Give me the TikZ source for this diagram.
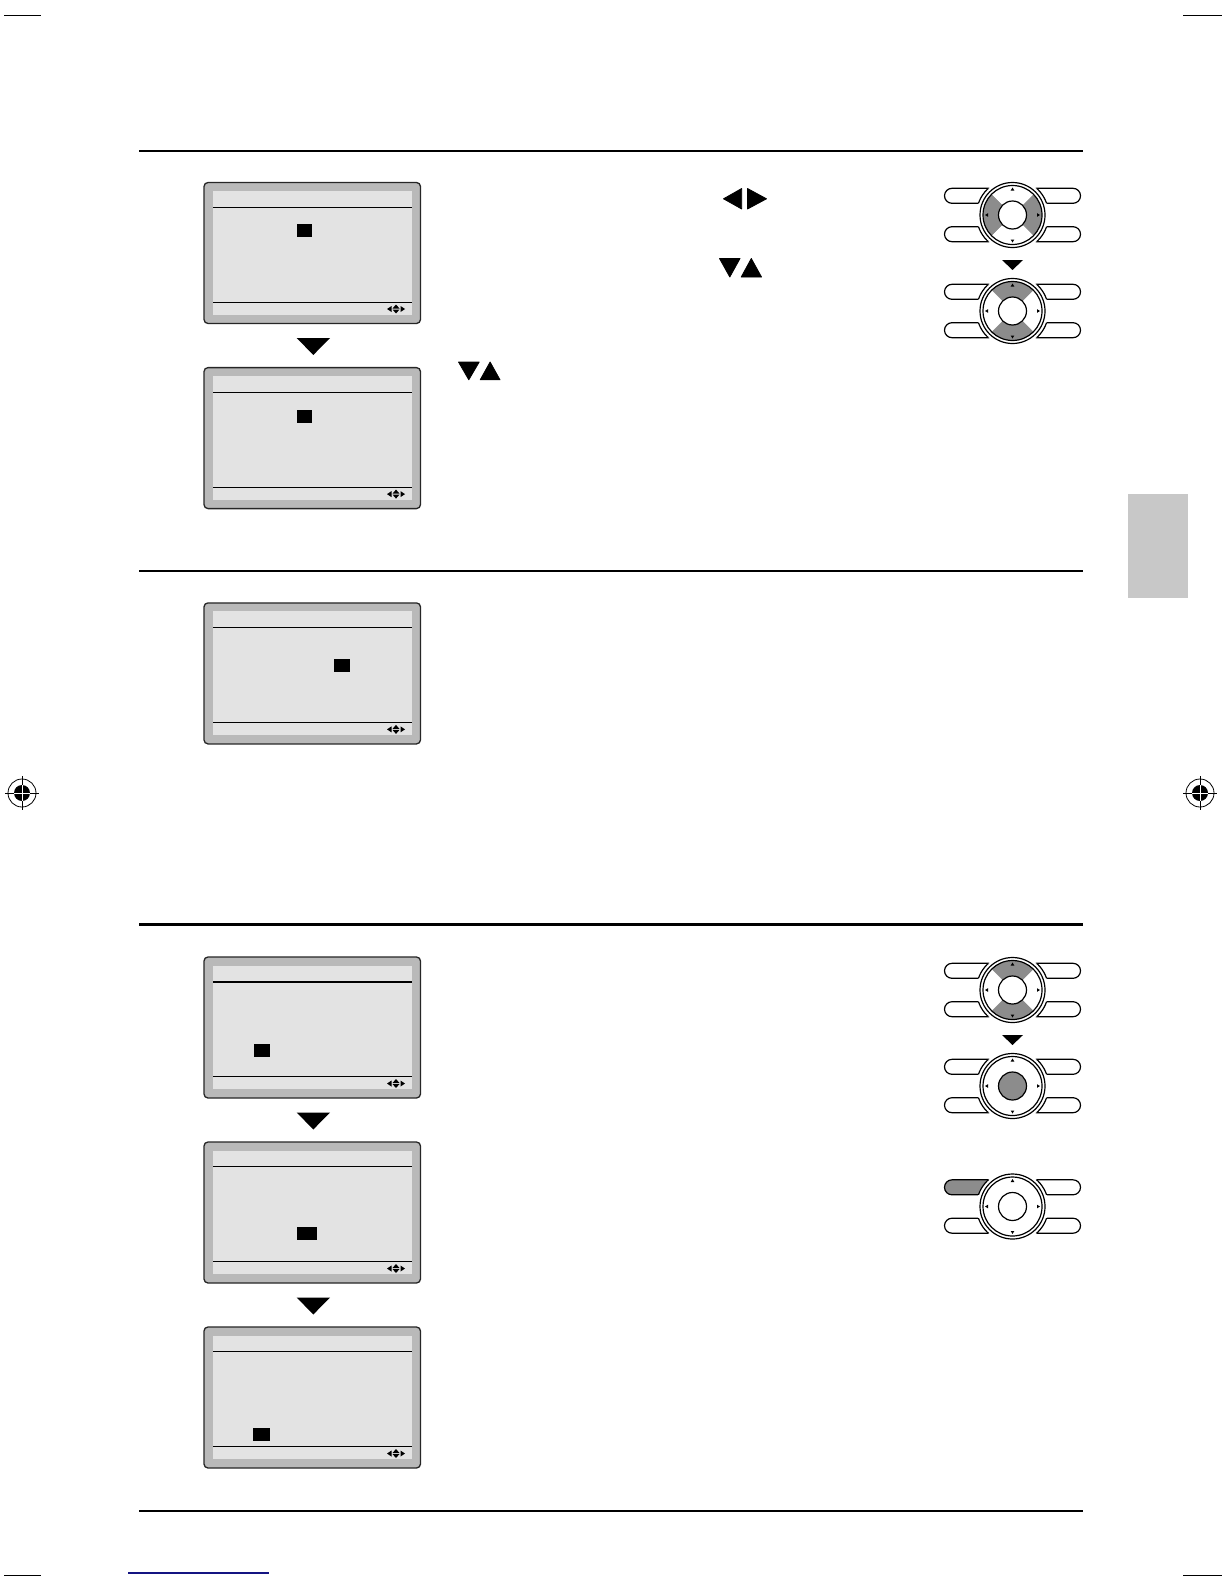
\documentclass[tikz,border=0pt]{standalone}
\definecolor{framegray}{RGB}{185,185,185}
\definecolor{screengray}{RGB}{227,227,227}
\definecolor{remgray}{RGB}{140,140,140}
\definecolor{tabgray}{RGB}{200,200,200}
\definecolor{navyline}{RGB}{20,20,130}

\tikzset{
  rule/.style={line width=#1, black},
  tri/.style={fill=black, draw=black, line width=0.8pt, line join=round},
}

\newcommand{\mylcd}[6]{% #1 x, #2 y, #3 cursor x, #4 cursor y, #5 cursor w, #6 top line width
  \begin{scope}[shift={(#1,#2)}]
    \filldraw[fill=framegray, draw=black!85, line width=1.3pt, rounded corners=4pt] (0,0) rectangle (216.5,141);
    \fill[screengray] (9,8.5) rectangle (207.5,132);
    \draw[line width=#6] (9,24.8) -- (207.5,24.8);
    \draw[line width=1pt] (9,119.8) -- (207.5,119.8);
    \fill (#3,#4) rectangle ++(#5,13);
    % navigation icon
    \fill (183,126.5) -- (187.5,123.5) -- (187.5,129.5) -- cycle;
    \fill (201,126.5) -- (196.5,123.5) -- (196.5,129.5) -- cycle;
    \fill (192,122) -- (188.5,126) -- (195.5,126) -- cycle;
    \fill (192,131) -- (188.5,127) -- (195.5,127) -- cycle;
  \end{scope}}

\newcommand{\myremote}[5]{% #1 cy, #2 left/right colour, #3 up/down colour, #4 centre colour, #5 top-left pill colour
  \begin{scope}[shift={(1012.5,#1)}, line width=1.2pt]
    \filldraw[fill=#5, rounded corners=7.5pt] (-68,-26.7) rectangle (-5,-11.7);
    \filldraw[fill=white, rounded corners=7.5pt] (-68,11.7) rectangle (-5,26.7);
    \filldraw[fill=white, rounded corners=7.5pt] (5,-26.7) rectangle (68,-11.7);
    \filldraw[fill=white, rounded corners=7.5pt] (5,11.7) rectangle (68,26.7);
    \fill[white] (0,0) circle (36);
    \begin{scope}\clip[rounded corners=7.5pt] (-68,-26.7) rectangle (-5,-11.7); \draw (0,0) circle (36); \end{scope}
    \begin{scope}\clip[rounded corners=7.5pt] (-68,11.7) rectangle (-5,26.7); \draw (0,0) circle (36); \end{scope}
    \begin{scope}\clip[rounded corners=7.5pt] (5,-26.7) rectangle (68,-11.7); \draw (0,0) circle (36); \end{scope}
    \begin{scope}\clip[rounded corners=7.5pt] (5,11.7) rectangle (68,26.7); \draw (0,0) circle (36); \end{scope}
    \draw (0,0) circle (32.5);
    \fill[#2] (0,0) -- (-45:29.5) arc (-45:45:29.5) -- cycle;
    \fill[#2] (0,0) -- (135:29.5) arc (135:225:29.5) -- cycle;
    \fill[#3] (0,0) -- (45:29.5) arc (45:135:29.5) -- cycle;
    \fill[#3] (0,0) -- (225:29.5) arc (225:315:29.5) -- cycle;
    \draw (0,0) circle (29.5);
    \filldraw[fill=#4] (0,0) circle (14);
    \fill (-1.8,-24.5) -- (1.8,-24.5) -- (0,-27.5) -- cycle;
    \fill (-1.8,24.5) -- (1.8,24.5) -- (0,27.5) -- cycle;
    \fill (-24.5,-1.8) -- (-24.5,1.8) -- (-27.5,0) -- cycle;
    \fill (24.5,-1.8) -- (24.5,1.8) -- (27.5,0) -- cycle;
  \end{scope}}

\newcommand{\regmark}[2]{%
  \begin{scope}[shift={(#1,#2)}]
    \draw[line width=0.8pt] (0,0) circle (14);
    \fill (0,0) circle (8);
    \draw[line width=0.8pt] (-17,0) -- (17,0) (0,-17) -- (0,17);
    \draw[white, line width=0.8pt] (-8,0) -- (8,0) (0,-8) -- (0,8);
  \end{scope}}

\begin{document}
\begin{tikzpicture}[x=1pt,y=-1pt]
\useasboundingbox[fill=white] (0,0) rectangle (1224,1584);

% crop marks
\draw[line width=1pt] (4,16) -- (41,16) (1183,16) -- (1222,16)
  (4,1575) -- (41,1575) (1183,1575) -- (1222,1575);
\draw[navyline, line width=1.5pt] (128,1573) -- (269,1573);

% section rules
\draw[rule=2pt] (139,150.5) -- (1083,150.5);
\draw[rule=2pt] (139,570.6) -- (1083,570.6);
\draw[rule=3pt] (139,924) -- (1083,924);
\draw[rule=1.2pt] (139,1511) -- (1083,1511);

% side tab
\fill[tabgray] (1128,494) rectangle (1188,598);

% registration marks
\regmark{22}{793}
\regmark{1200}{793}

% screens
\mylcd{204}{182.5}{92.7}{41.8}{15.6}{1pt}
\mylcd{204}{367.6}{93}{42.4}{14.5}{1pt}
\mylcd{204}{602.9}{130}{56.5}{16}{1pt}
\mylcd{204}{957}{50}{87}{16}{1.6pt}
\mylcd{204}{1142}{93}{85}{20}{1pt}
\mylcd{204}{1327}{49}{101}{17}{1pt}

% arrows between screens
\fill (296.7,338) -- (330,338) -- (313.3,355) -- cycle;
\fill (296.7,1112.5) -- (330,1112.5) -- (313.3,1129.5) -- cycle;
\fill (296.7,1297.5) -- (330,1297.5) -- (313.3,1314.5) -- cycle;

% text symbols
\filldraw[tri] (723.5,198.8) -- (741.7,188.5) -- (741.7,209) -- cycle;
\filldraw[tri] (766.5,198.8) -- (747.5,188.5) -- (747.5,209) -- cycle;
\filldraw[tri] (719.5,258.5) -- (740,258.5) -- (729.8,277) -- cycle;
\filldraw[tri] (741.2,277) -- (761.5,277) -- (751.3,258.5) -- cycle;
\filldraw[tri] (458.5,362) -- (479.2,362) -- (468.8,379.8) -- cycle;
\filldraw[tri] (480.2,379.8) -- (500,379.8) -- (490.1,362) -- cycle;

% remotes
\myremote{215}{remgray}{white}{white}{white}
\fill (1002,260) -- (1023,260) -- (1012.5,270) -- cycle;
\myremote{311}{white}{remgray}{white}{white}
\myremote{990}{white}{remgray}{white}{white}
\fill (1002,1035) -- (1023,1035) -- (1012.5,1045) -- cycle;
\myremote{1086}{white}{white}{remgray}{white}
\myremote{1206.5}{white}{white}{white}{remgray}
\end{tikzpicture}
\end{document}
